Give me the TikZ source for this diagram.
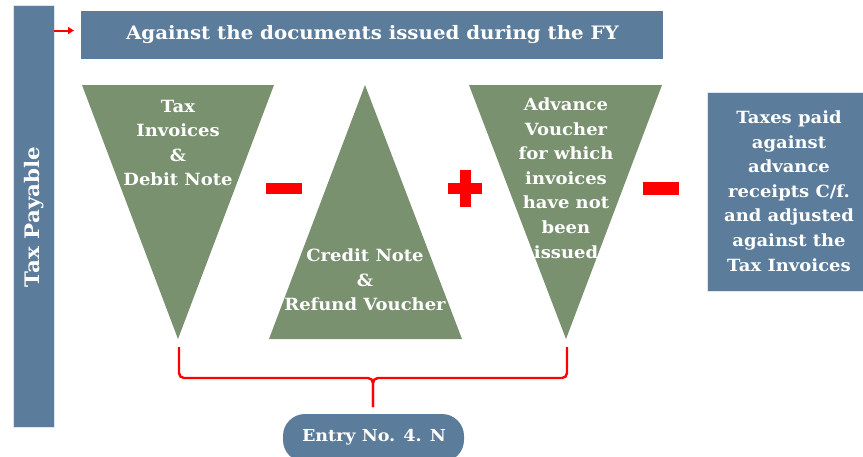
\documentclass[tikz,border=0pt]{standalone}
\usepackage{fontspec}
\setmainfont{DejaVu Serif}[FakeStretch=1.07]
\usetikzlibrary{arrows.meta}
\definecolor{bluebox}{RGB}{91,124,154}
\definecolor{greentri}{RGB}{122,145,112}
\definecolor{sigred}{RGB}{255,0,0}
\tikzset{
  lbl/.style={text=white, font=\bfseries\fontsize{16.8}{24.6}\selectfont, align=center, inner sep=0pt},
  bigl/.style={text=white, font=\bfseries\fontsize{18.5}{24}\selectfont, align=center, inner sep=0pt},
  tri/.style={fill=greentri},
  sign/.style={fill=sigred},
  brace/.style={draw=sigred, line width=2.4pt, rounded corners=5pt},
}
\begin{document}
\begin{tikzpicture}[x=1pt,y=-1pt]
\clip (0,0) rectangle (863,456);
\useasboundingbox (0,0) rectangle (863,456);
% left bar
\node[fill=bluebox, draw=white!80!bluebox, minimum width=41pt, minimum height=422pt, inner sep=0pt] (bar) at (33.5,216) {};
\node[bigl, rotate=90, font=\bfseries\fontsize{20}{22}\selectfont] (barlbl) at (34,217) {Tax Payable};
% top banner
\node[fill=bluebox, minimum width=582pt, minimum height=48pt, inner sep=0pt] (banner) at (372,35) {};
\node[bigl] (bannerlbl) at (372.5,35) {Against the documents issued during the FY};
\coordinate (arrs) at (54,30.5);
\coordinate (arre) at (74,30.5);
\draw[sigred, line width=2pt, -{Triangle[length=6pt,width=7pt]}] (arrs) -- (arre);
% triangles
\fill[tri] (82,85) -- (274,85) -- (178,339) -- cycle;
\coordinate (t1apex) at (178,339);
\node[lbl] (t1) at (178,143) {Tax\\Invoices\\\&\\Debit Note};
\fill[tri] (365,85) -- (462,339) -- (269,339) -- cycle;
\node[lbl] (t2) at (365,280) {Credit Note\\\&\\Refund Voucher};
\fill[tri] (469,85) -- (662,85) -- (566,339) -- cycle;
\coordinate (t3apex) at (566,339);
\node[lbl] (t3) at (566,178) {Advance\\Voucher\\for which\\invoices\\have not\\been\\issued};
% signs
\fill[sign] (266,183) rectangle (302,194);
\fill[sign] (448,183) rectangle (482,194);
\fill[sign] (459.5,170) rectangle (470.5,207);
\fill[sign] (643,182) rectangle (679,195);
% right box
\node[fill=bluebox, draw=white!80!bluebox, minimum width=160pt, minimum height=199pt, inner sep=0pt] (right) at (787,191.5) {};
\node[lbl] (rightlbl) at (789,191) {Taxes paid\\against\\advance\\receipts C/f.\\and adjusted\\against the\\Tax Invoices};
% entry pill
\node[fill=bluebox, rounded corners=22pt, minimum width=181pt, minimum height=48pt, inner sep=0pt] (entry) at (373.5,438) {};
\node[lbl, font=\bfseries\fontsize{16.4}{20}\selectfont] (entrylbl) at (374,437) {Entry No. 4. N};
% brace
\coordinate (tip) at (373,407);
\draw[brace] (t1apex) ++(1,8) -- (179,378) -- (373,378) -- (tip);
\draw[brace] (t3apex) ++(1,8) -- (567,378) -- (373,378) -- (tip);
\end{tikzpicture}
\end{document}
